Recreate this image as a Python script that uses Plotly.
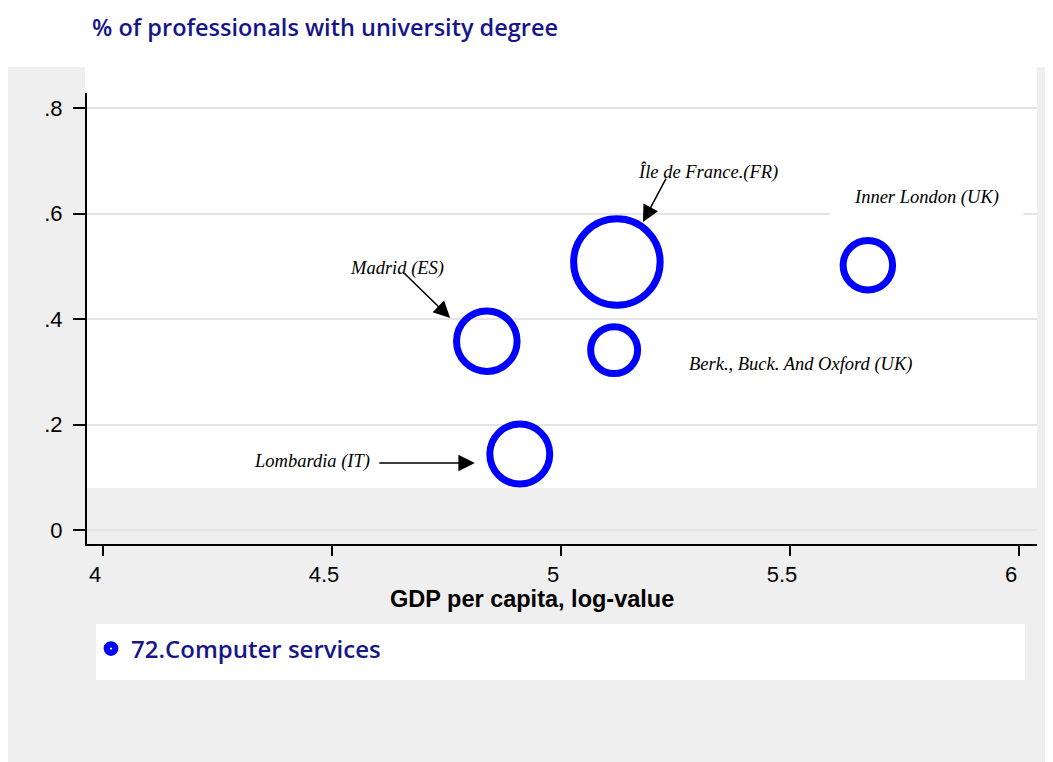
import plotly.graph_objects as go

# ---------------- data ----------------
regions = ["Île de France.(FR)", "Inner London (UK)", "Madrid (ES)",
           "Berk., Buck. And Oxford (UK)", "Lombardia (IT)"]
gdp_log = [5.122, 5.670, 4.838, 5.116, 4.910]
univ_share = [0.508, 0.502, 0.358, 0.341, 0.144]
bubble_weight = [100, 32.7, 49, 29.5, 48]
series_name = "72.Computer services"

x_ticks = [4, 4.5, 5, 5.5, 6]
x_tick_labels = ["4", "4.5", "5", "5.5", "6"]
y_ticks = [0, 0.2, 0.4, 0.6, 0.8]
y_tick_labels = ["0", ".2", ".4", ".6", ".8"]

# label placement (data coords) and arrows
label_x = [5.321, 5.799, 4.642, 5.522, 4.456]
label_y = [0.679, 0.631, 0.495, 0.313, 0.129]
arrow_tail_x = [5.231, None, 4.655, None, 4.600]
arrow_tail_y = [0.669, None, 0.489, None, 0.127]
arrow_head_x = [5.179, None, 4.758, None, 4.812]
arrow_head_y = [0.584, None, 0.402, None, 0.127]
boxed_labels = ["Inner London (UK)"]

title_text = "% of professionals with university degree"
x_title = "GDP per capita, log-value"

# ---------------- layout geometry ----------------
OFF = 8                      # page body margin
W, H = 1053 - OFF, 762 - OFF
L, R, T, B = 87, 1037, 93, 544  # plot area in screen pixels


def px(xp):
    return (xp - L) / (R - L)


def py(yp):
    return (B - yp) / (B - T)


NAVY = "#16168a"
BLUE = "#0000ff"
GRAY = "#efefef"
TITLE_FONT = "Open Sans, Lato, sans-serif"
max_d = 86.5

fig = go.Figure()
fig.add_trace(go.Scatter(
    x=gdp_log, y=univ_share, mode="markers", text=regions,
    showlegend=False, hoverinfo="text",
    marker=dict(size=bubble_weight, sizemode="area",
                sizeref=2.0 * max(bubble_weight) / (max_d ** 2), opacity=1,
                color="rgba(0,0,0,0)", line=dict(color=BLUE, width=7)),
))
fig.add_trace(go.Scatter(
    x=[None], y=[None], mode="markers", name=series_name,
    marker=dict(symbol="circle-dot", size=16, color=BLUE, opacity=1,
                line=dict(color="white", width=1.2)),
))

shapes = [
    dict(type="rect", xref="paper", yref="paper", x0=px(OFF), x1=px(1060),
         y0=py(770), y1=py(67), fillcolor=GRAY, line=dict(width=0), layer="below"),
    dict(type="rect", xref="paper", yref="paper", x0=px(85), x1=px(1037),
         y0=py(488), y1=py(67), fillcolor="white", line=dict(width=0), layer="below"),
    dict(type="rect", xref="paper", yref="paper", x0=px(96), x1=px(1025),
         y0=py(680), y1=py(624), fillcolor="white", line=dict(width=0), layer="below"),
]

annotations = []
for i, name in enumerate(regions):
    boxed = name in boxed_labels
    annotations.append(dict(
        x=label_x[i], y=label_y[i], xref="x", yref="y", text=name,
        showarrow=False, xanchor="center", yanchor="middle",
        font=dict(family="Liberation Serif, Times New Roman, serif", size=18.5,
                  color="black", style="italic"),
        bgcolor="white" if boxed else None,
        borderpad=24 if boxed else 1,
    ))
    if arrow_tail_x[i] is not None:
        annotations.append(dict(
            x=arrow_head_x[i], y=arrow_head_y[i], xref="x", yref="y",
            ax=arrow_tail_x[i], ay=arrow_tail_y[i], axref="x", ayref="y",
            text="", showarrow=True, arrowhead=2, arrowsize=2.2,
            arrowwidth=1.5, arrowcolor="black", standoff=0, startstandoff=0,
        ))

annotations.append(dict(
    x=px(90), y=py(27), xref="paper", yref="paper", text=title_text,
    showarrow=False, xanchor="left", yanchor="middle",
    font=dict(family=TITLE_FONT, size=23.5, color=NAVY, weight=600),
))
annotations.append(dict(
    x=px(532), y=py(599), xref="paper", yref="paper", text=x_title,
    showarrow=False, xanchor="center", yanchor="middle",
    font=dict(family="Liberation Sans, Arial, sans-serif", size=23.5, color="black", weight="bold"),
))

fig.update_layout(
    width=W, height=H,
    margin=dict(l=L - OFF, r=W - (R - OFF), t=T - OFF, b=H - (B - OFF), autoexpand=False),
    paper_bgcolor="white", plot_bgcolor="rgba(0,0,0,0)",
    shapes=shapes, annotations=annotations,
    showlegend=True,
    legend=dict(x=px(91), y=py(649), xanchor="left", yanchor="middle",
                bgcolor="rgba(0,0,0,0)", borderwidth=0,
                font=dict(family=TITLE_FONT, size=24, color=NAVY, weight=600)),
    font=dict(family="Liberation Sans, Arial, sans-serif"),
)
fig.update_xaxes(
    range=[4 - 16 / 458, 6 + 18 / 458], tickvals=x_ticks, ticktext=x_tick_labels,
    showgrid=False, zeroline=False, showline=True, linecolor="black", linewidth=2,
    ticks="outside", ticklen=10, tickwidth=2, tickcolor="black",
    tickfont=dict(family="Liberation Sans, Arial, sans-serif", size=22, color="black"),
    ticklabelshift=-8,
)
fig.update_yaxes(
    range=[-14 / 527.5, 0.8 + 15 / 527.5], tickvals=y_ticks, ticktext=y_tick_labels,
    showgrid=True, gridcolor="#e4e4e4", gridwidth=1.5, zeroline=False,
    showline=True, linecolor="black", linewidth=2,
    ticks="outside", ticklen=12, tickwidth=2, tickcolor="black",
    tickfont=dict(family="Liberation Sans, Arial, sans-serif", size=22, color="black"),
    ticklabelstandoff=6,
)

fig.write_html("out.html")
